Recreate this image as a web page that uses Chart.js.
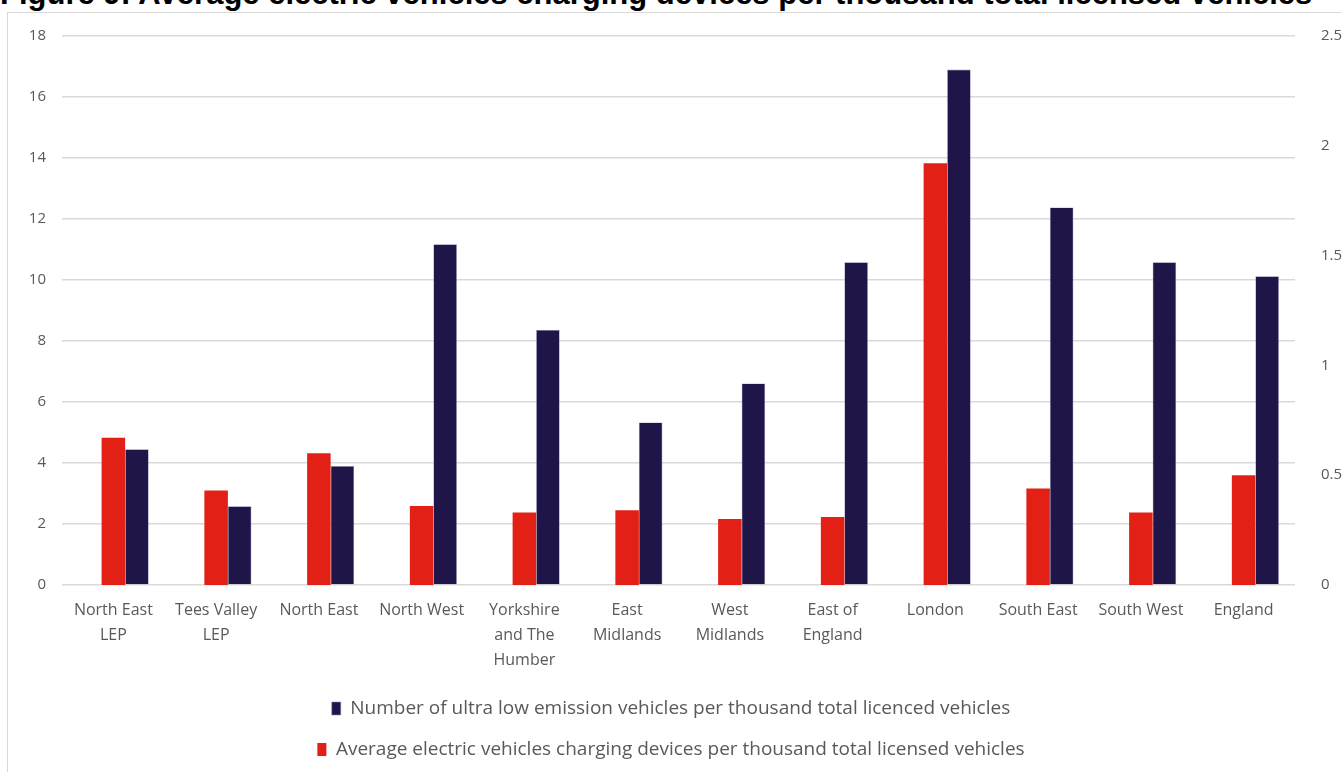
<!DOCTYPE html>
<html>
<head>
<meta charset="utf-8">
<script src="https://cdn.jsdelivr.net/npm/chart.js@4/dist/chart.umd.min.js"></script>
<style>
  html, body { margin: 0; padding: 0; background: #fff; overflow: hidden; }
  #wrap { position: relative; width: 1342px; height: 772px; }
  #frame { position: absolute; left: 7px; top: 12px; width: 1400px; height: 800px; border: 1px solid #d9d9d9; box-sizing: border-box; }
  #title { position: absolute; left: 0; top: -22px; font: bold 31px "Liberation Sans", Arial, sans-serif; line-height: 31px; color: #000; white-space: nowrap; }
  #chart { position: absolute; left: 0; top: 0; }
</style>
</head>
<body>
<div id="wrap">
  <div id="frame"></div>
  <div id="title">Figure 9: Average electric vehicles charging devices per thousand total licensed vehicles</div>
  <canvas id="chart" width="1342" height="772"></canvas>
</div>
<script>
const regions = [
  ['North East', 'LEP'], ['Tees Valley', 'LEP'], 'North East', 'North West',
  ['Yorkshire', 'and The', 'Humber'], ['East', 'Midlands'], ['West', 'Midlands'],
  ['East of', 'England'], 'London', 'South East', 'South West', 'England'
];
// charging devices per thousand licensed vehicles (right axis)
const chargingDevices = [0.67, 0.43, 0.60, 0.36, 0.33, 0.34, 0.30, 0.31, 1.92, 0.44, 0.33, 0.50];
// ultra low emission vehicles per thousand licensed vehicles (left axis)
const ulevPerThousand = [4.45, 2.58, 3.90, 11.17, 8.36, 5.33, 6.61, 10.58, 16.9, 12.38, 10.58, 10.12];

const grey = '#595959';
const tickFont = { family: '"Open Sans", sans-serif', size: 16, lineHeight: 1.55 };
const axisFont = { family: '"Open Sans", sans-serif', size: 15 };

// the ULEV bars sit one bar-width to the right of the charging-device bars
const shiftUlev = {
  id: 'shiftUlev',
  beforeDatasetDraw(chart, args) {
    if (args.index !== 1) return;
    const w = args.meta.data[0].width;
    chart.ctx.save();
    chart.ctx.translate(w, 0);
  },
  afterDatasetDraw(chart, args) {
    if (args.index === 1) chart.ctx.restore();
  }
};

new Chart(document.getElementById('chart'), {
  type: 'bar',
  data: {
    labels: regions,
    datasets: [
      {
        label: 'Average electric vehicles charging devices per thousand total licensed vehicles',
        data: chargingDevices,
        backgroundColor: '#e32016',
        yAxisID: 'y2',
        grouped: false,
        categoryPercentage: 0.229,
        barPercentage: 1
      },
      {
        label: 'Number of ultra low emission vehicles per thousand total licenced vehicles',
        data: ulevPerThousand,
        backgroundColor: '#1f1549',
        borderColor: '#8c86a6',
        borderWidth: 0.6,
        yAxisID: 'y',
        grouped: false,
        categoryPercentage: 0.229,
        barPercentage: 1
      }
    ]
  },
  options: {
    responsive: false,
    animation: false,
    layout: { padding: { top: 36, bottom: 3, left: 0, right: 0 } },
    scales: {
      x: {
        grid: { display: false },
        border: { display: false },
        ticks: { color: grey, font: tickFont, padding: 5, maxRotation: 0, autoSkip: false },
        afterFit(scale) { scale.height = 92; }
      },
      y: {
        position: 'left',
        min: 0,
        max: 18,
        ticks: { stepSize: 2, color: grey, font: axisFont, padding: 16 },
        grid: { color: '#d9d9d9', lineWidth: 1.5, drawTicks: false },
        border: { display: false },
        afterFit(scale) { scale.width = 62; }
      },
      y2: {
        position: 'right',
        min: 0,
        max: 2.5,
        ticks: { stepSize: 0.5, color: grey, font: axisFont, padding: 18, callback: (v) => String(v) },
        grid: { display: false },
        border: { display: false },
        afterFit(scale) { scale.width = 47; }
      }
    },
    plugins: {
      legend: {
        position: 'bottom',
        reverse: true,
        labels: {
          color: grey,
          font: { family: '"Open Sans", sans-serif', size: 19 },
          boxWidth: 9,
          boxHeight: 13,
          padding: 22
        }
      },
      tooltip: { enabled: false }
    }
  },
  plugins: [shiftUlev]
});
</script>
</body>
</html>
